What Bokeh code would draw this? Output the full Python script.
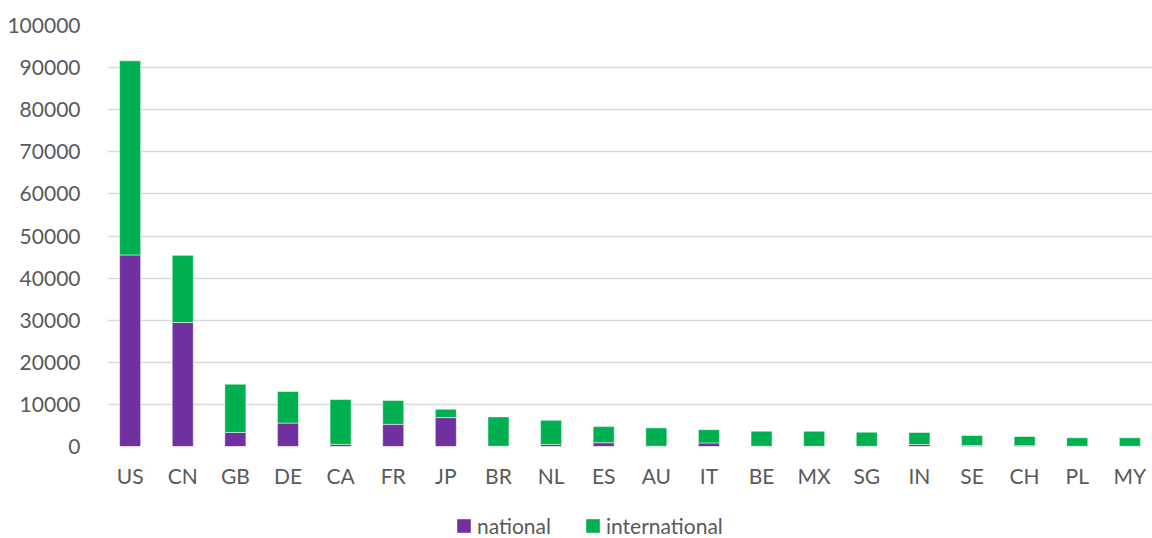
from bokeh.plotting import figure
from bokeh.layouts import column
from bokeh.models import (Range1d, FactorRange, FixedTicker, NumeralTickFormatter,
                          Legend, LegendItem, ColumnDataSource)
from bokeh.embed import file_html
from bokeh.resources import INLINE

countries = ["US", "CN", "GB", "DE", "CA", "FR", "JP", "BR", "NL", "ES",
             "AU", "IT", "BE", "MX", "SG", "IN", "SE", "CH", "PL", "MY"]
national = [45500, 29450, 3330, 5560, 500, 5260, 6860, 60, 500, 900,
            60, 850, 50, 50, 50, 470, 250, 200, 50, 50]
total = [91600, 45400, 14800, 13060, 11150, 10950, 8850, 7030, 6220, 4730,
         4420, 4000, 3650, 3620, 3400, 3330, 2610, 2380, 2070, 2070]
international = [t - n for t, n in zip(total, national)]
y_ticks = [0, 10000, 20000, 30000, 40000, 50000, 60000, 70000, 80000, 90000, 100000]
series_names = ["national", "international"]
series_colors = ["#7030A0", "#00B050"]

source = ColumnDataSource(data=dict(country=countries, national=national,
                                    international=international))

FONT = "Lato"
TXT = "#595959"

p = figure(x_range=FactorRange(*countries, range_padding=-0.07,
                               range_padding_units="absolute"),
           y_range=Range1d(0, 100000),
           frame_width=1045, frame_height=421,
           output_backend="svg", toolbar_location=None,
           min_border_left=107, min_border_right=0, min_border_top=25,
           min_border_bottom=59)
p.outline_line_color = None

renderers = p.vbar_stack(series_names, x="country", width=0.4,
                         source=source, color=series_colors,
                         line_color="white", line_width=1, line_alpha=0.5)

p.xgrid.grid_line_color = None
p.ygrid.grid_line_color = "#D9D9D9"
p.ygrid.grid_line_width = 1.5
p.yaxis.ticker = FixedTicker(ticks=y_ticks)
p.yaxis.formatter = NumeralTickFormatter(format="0")

for ax in (p.xaxis[0], p.yaxis[0]):
    ax.axis_line_color = None
    ax.major_tick_line_color = None
    ax.minor_tick_line_color = None
    ax.major_label_text_font = FONT
    ax.major_label_text_font_size = "21px"
    ax.major_label_text_color = TXT
p.yaxis.major_label_standoff = 21
p.xaxis.major_label_standoff = 10

# legend strip below the chart (zero-height proxy bars only feed the legend)
lg = figure(width=1152, height=33, x_range=Range1d(0, 1), y_range=Range1d(0, 1),
            output_backend="svg", toolbar_location=None,
            x_axis_location=None, y_axis_location=None,
            min_border_left=0, min_border_right=0, min_border_top=0,
            min_border_bottom=0)
lg.outline_line_color = None
lg.grid.grid_line_color = None
items = []
for name, col in zip(series_names, series_colors):
    r = lg.vbar(x=[0.5], bottom=[0], top=[0], width=0.01, fill_color=col,
                line_color=col, line_alpha=0.0)
    items.append(LegendItem(label=name, renderers=[r]))
legend = Legend(items=items, orientation="horizontal", location=(348, 0),
                glyph_width=17, glyph_height=17, label_standoff=5, spacing=33,
                label_text_font=FONT, label_text_font_size="21px",
                label_text_color=TXT, border_line_color=None,
                background_fill_alpha=0, padding=0, margin=0)
lg.add_layout(legend, "center")

layout = column(p, lg, spacing=0)
open("out.html", "w").write(file_html(layout, INLINE))
